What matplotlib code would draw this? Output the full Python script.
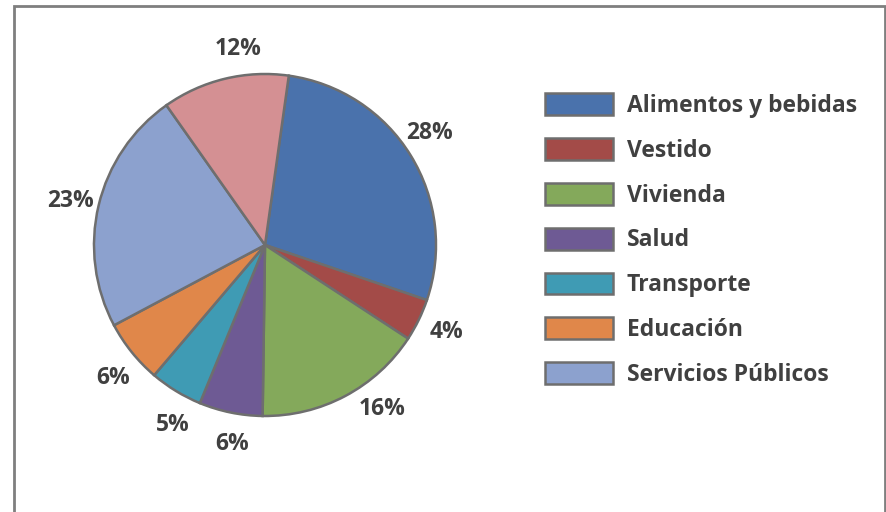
import numpy as np
import matplotlib.pyplot as plt
from matplotlib.patches import Rectangle

plt.rcParams['font.family'] = ['Open Sans', 'DejaVu Sans']

# gasto por rubro (%), la ultima porcion no tiene entrada en la leyenda
categories = ['Alimentos y bebidas', 'Vestido', 'Vivienda', 'Salud',
              'Transporte', 'Educación', 'Servicios Públicos', 'Otros']
values = [28, 4, 16, 6, 5, 6, 23, 12]
colors = ['#4A72AC', '#A34B48', '#84A95B', '#6E5A94',
          '#3F9BB4', '#E0874A', '#8CA1CE', '#D49093']

W, H = 887, 512
fig = plt.figure(figsize=(W / 100, H / 100), dpi=100)

# marco gris del grafico
fig.patches.append(Rectangle((14 / W, -0.05), (885 - 14) / W, 1.05 - 6 / H,
                             transform=fig.transFigure, fill=False,
                             edgecolor='#7F7F7F', linewidth=2))

cx, cy, r = 265, 245, 171
ax = fig.add_axes([(cx - r) / W, (H - cy - r) / H, 2 * r / W, 2 * r / H])

wedges, texts, autotexts = ax.pie(
    values, colors=colors, startangle=82, counterclock=False,
    autopct='%d%%', pctdistance=1.17, radius=1,
    wedgeprops=dict(edgecolor='#6E6E6E', linewidth=1.8),
    textprops=dict(fontsize=16.5, fontweight='bold', color='#404040'))
ax.set_xlim(-1, 1)
ax.set_ylim(-1, 1)

# Excel "best fit" corre algunas etiquetas un poco del centro de la porcion
nudge = [3, 1, 8, 2, 4, 2, 0, -6]
for w, t, d in zip(wedges, autotexts, nudge):
    ang = np.deg2rad((w.theta1 + w.theta2) / 2 + d)
    t.set_position((1.17 * np.cos(ang), 1.17 * np.sin(ang) - 0.012))

fig.legend(wedges[:7], categories[:7], loc='upper left',
           bbox_to_anchor=(545 / W, 1 - 93 / H), frameon=False,
           borderpad=0, borderaxespad=0, handlelength=2.97, handleheight=1.09,
           handletextpad=0.6, labelspacing=0.88,
           prop=dict(size=16.5, weight='bold'), labelcolor='#404040')

plt.savefig('out.png', dpi=100)
